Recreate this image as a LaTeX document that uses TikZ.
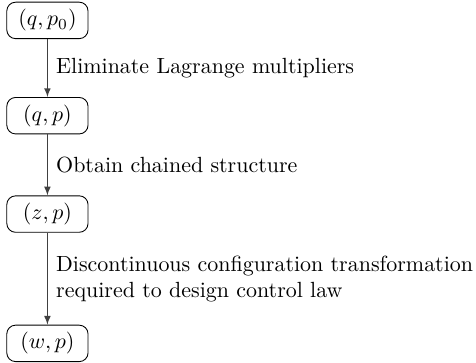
\documentclass[tikz,border=0pt]{standalone}
\usepackage{amsmath}
\usetikzlibrary{positioning}
\tikzset{
Etat/.style={
 draw=black,
 rounded corners=4pt,
 minimum width=37pt,
 minimum height=16.6pt,
 inner sep=2pt
 },
Passage/.style={
 draw=black!75,
 -latex
 },
Texte/.style={
 right,
 align=left,
 inner sep=3.8pt
 }
}
\begin{document}
\begin{tikzpicture}
\useasboundingbox (-21.6pt,-155.6pt) rectangle (195.2pt,9.3pt);
\node[Etat] (qpzero) at (0,0) {$(q,p_0)$};
\node[Etat,below=26.4pt of qpzero] (qp) {$(q,p)$};
\node[Etat,below=27.8pt of qp] (zp) {$(z,p)$};
\node[Etat,below=41.9pt of zp] (wp) {$(w,p)$};
\draw[Passage] (qpzero) -- node[Texte] {Eliminate Lagrange multipliers} (qp);
\draw[Passage] (qp) -- node[Texte] {Obtain chained structure} (zp);
\draw[Passage] (zp) -- node[Texte] {Discontinuous configuration transformation\\required to design control law} (wp);
\end{tikzpicture}
\end{document}
